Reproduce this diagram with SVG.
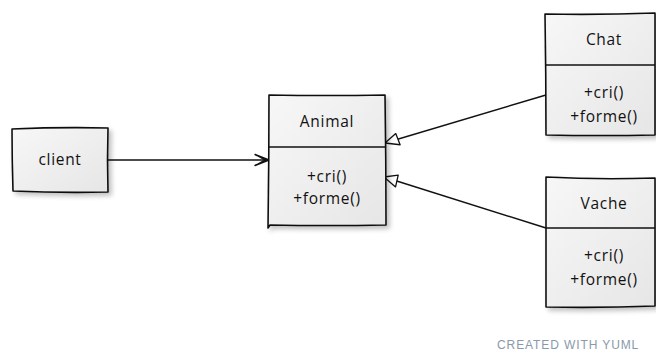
<svg xmlns="http://www.w3.org/2000/svg" width="656" height="351" viewBox="0 0 656 351">
  <style>
    .box { fill: url(#boxFill); stroke: #111; stroke-width: 1.6; stroke-linejoin: round; filter: url(#shadow); }
    .rule { fill: none; stroke: #111; stroke-width: 1.5; }
    .edge { fill: none; stroke: #111; stroke-width: 1.5; }
    .label { font-family: "Open Sans", "DejaVu Sans", sans-serif; font-size: 15.5px; letter-spacing: 0.7px; fill: #111; text-anchor: middle; }
    .credit { font-family: "Liberation Sans", Arial, sans-serif; font-size: 12px; fill: #8a99aa; letter-spacing: 0.9px; }
  </style>
  <defs>
    <linearGradient id="boxFill" x1="0" y1="0" x2="1" y2="1">
      <stop offset="0" stop-color="#f7f7f7"/>
      <stop offset="1" stop-color="#e6e6e6"/>
    </linearGradient>
    <filter id="shadow" x="-10%" y="-10%" width="125%" height="125%">
      <feGaussianBlur in="SourceAlpha" stdDeviation="2.5"/>
      <feOffset dx="3" dy="3" result="b"/>
      <feComponentTransfer><feFuncA type="linear" slope="0.25"/></feComponentTransfer>
      <feMerge><feMergeNode/><feMergeNode in="SourceGraphic"/></feMerge>
    </filter>
    <marker id="openArrow" viewBox="0 0 16 14" refX="15" refY="7" markerWidth="16" markerHeight="14" markerUnits="userSpaceOnUse" orient="auto">
      <path d="M1,1.5 L15,7 L1,12.5 L3,11.5 L11,7 L3,2.5 Z" fill="#222" stroke="#111" stroke-width="1.4" stroke-linejoin="round"/>
    </marker>
    <marker id="hollowTri" viewBox="0 0 16 14" refX="15" refY="7" markerWidth="16" markerHeight="14" markerUnits="userSpaceOnUse" orient="auto">
      <path d="M15,7 L1,1 L2,13 Z" fill="#fff" stroke="#111" stroke-width="1.3" stroke-linejoin="round"/>
    </marker>
  </defs>

  <rect width="656" height="351" fill="#fff"/>

  <!-- associations and generalisations -->
  <g id="connectors">
    <path class="edge" d="M108,160 L269,160" marker-end="url(#openArrow)"/>
    <path class="edge" d="M546,95 L385,143" marker-end="url(#hollowTri)"/>
    <path class="edge" d="M546,228 L384,177" marker-end="url(#hollowTri)"/>
  </g>

  <g id="client">
    <path class="box" d="M12,129 Q60,127 108,128 Q107,160 108,192 Q60,193 13,191 Q12,160 12,129 Z"/>
    <text class="label" x="60" y="165">client</text>
  </g>

  <g id="animal">
    <path class="box" d="M269,95 Q327,96 385,95 Q386,160 386,225 Q327,226 270,225 L268,228 Q269,160 269,95 Z"/>
    <path class="rule" d="M269,147 L385,147"/>
    <text class="label" x="327" y="127">Animal</text>
    <text class="label" x="327" y="182">+cri()</text>
    <text class="label" x="327" y="204">+forme()</text>
  </g>

  <g id="chat">
    <path class="box" d="M545,14 Q600,15 655,13 L655,135 Q600,136 546,135 Q546,74 545,14 Z"/>
    <path class="rule" d="M545,65 L655,65"/>
    <text class="label" x="604" y="45">Chat</text>
    <text class="label" x="604" y="98">+cri()</text>
    <text class="label" x="604" y="122">+forme()</text>
  </g>

  <g id="vache">
    <path class="box" d="M546,177 Q600,180 655,178 L655,306 Q600,308 546,307 Q546,242 546,177 Z"/>
    <path class="rule" d="M546,228 L655,228"/>
    <text class="label" x="604" y="209">Vache</text>
    <text class="label" x="604" y="261">+cri()</text>
    <text class="label" x="604" y="285">+forme()</text>
  </g>

  <text class="credit" x="497" y="349">CREATED WITH YUML</text>
</svg>
